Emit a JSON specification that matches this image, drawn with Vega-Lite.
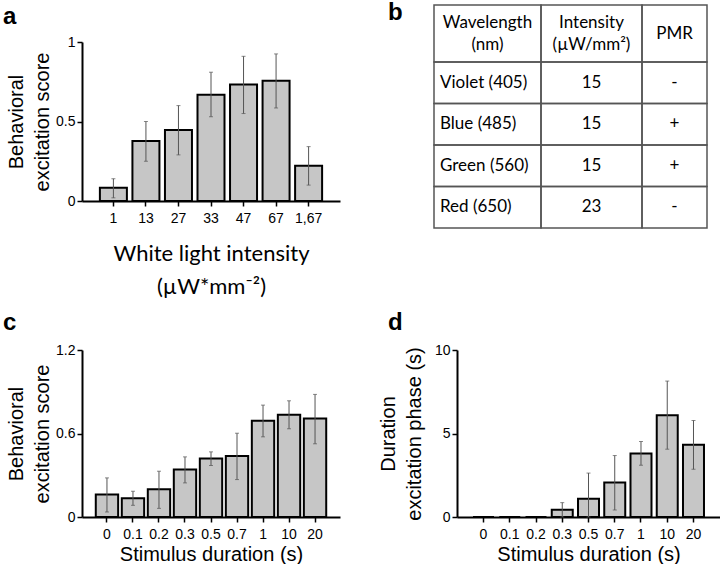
{
  "$schema": "https://vega.github.io/schema/vega-lite/v6.json",
  "background": "white",
  "padding": {"left": 3, "top": 1, "right": 0, "bottom": 0},
  "config": {
    "view": {"stroke": null},
    "axis": {"domainColor": "black", "domainWidth": 2, "tickColor": "black", "tickWidth": 1.5, "tickSize": 5, "labelColor": "black", "labelFont": "Liberation Sans", "labelFontSize": 14, "labelPadding": 2, "titleFont": "Liberation Sans", "titleFontSize": 20, "titleFontWeight": "normal", "titleColor": "black", "grid": false, "labelAngle": 0},
    "axisX": {"labelPadding": 5},
    "axisY": {"format": ".2~f"},
    "title": {"font": "Liberation Sans", "fontSize": 24, "fontWeight": "bold", "color": "black", "anchor": "start", "frame": "group"}
  },
  "datasets": {
    "a": [
      {"intensity": "1", "score": 0.084, "lo": 0.02, "hi": 0.14},
      {"intensity": "13", "score": 0.377, "lo": 0.25, "hi": 0.5},
      {"intensity": "27", "score": 0.447, "lo": 0.29, "hi": 0.6},
      {"intensity": "33", "score": 0.669, "lo": 0.53, "hi": 0.81},
      {"intensity": "47", "score": 0.732, "lo": 0.55, "hi": 0.91},
      {"intensity": "67", "score": 0.757, "lo": 0.585, "hi": 0.925},
      {"intensity": "1,67", "score": 0.222, "lo": 0.1, "hi": 0.342}
    ],
    "c": [
      {"duration": "0", "score": 0.161, "lo": 0.036, "hi": 0.281},
      {"duration": "0.1", "score": 0.134, "lo": 0.084, "hi": 0.185},
      {"duration": "0.2", "score": 0.199, "lo": 0.062, "hi": 0.329},
      {"duration": "0.3", "score": 0.341, "lo": 0.245, "hi": 0.432},
      {"duration": "0.5", "score": 0.42, "lo": 0.37, "hi": 0.468},
      {"duration": "0.7", "score": 0.439, "lo": 0.269, "hi": 0.602},
      {"duration": "1", "score": 0.691, "lo": 0.576, "hi": 0.804},
      {"duration": "10", "score": 0.734, "lo": 0.634, "hi": 0.835},
      {"duration": "20", "score": 0.708, "lo": 0.526, "hi": 0.881}
    ],
    "d": [
      {"duration": "0", "phase": 0, "lo": null, "hi": null},
      {"duration": "0.1", "phase": 0, "lo": null, "hi": null},
      {"duration": "0.2", "phase": 0, "lo": null, "hi": null},
      {"duration": "0.3", "phase": 0.44, "lo": 0.0, "hi": 0.86},
      {"duration": "0.5", "phase": 1.1, "lo": 0.0, "hi": 2.63},
      {"duration": "0.7", "phase": 2.06, "lo": 0.42, "hi": 3.68},
      {"duration": "1", "phase": 3.8, "lo": 3.1, "hi": 4.52},
      {"duration": "10", "phase": 6.1, "lo": 4.06, "hi": 8.14},
      {"duration": "20", "phase": 4.32, "lo": 2.86, "hi": 5.78}
    ],
    "table": [
      {"wavelength": "Violet (405)", "intensity": "15", "pmr": "-"},
      {"wavelength": "Blue (485)", "intensity": "15", "pmr": "+"},
      {"wavelength": "Green (560)", "intensity": "15", "pmr": "+"},
      {"wavelength": "Red (650)", "intensity": "23", "pmr": "-"}
    ]
  },
  "vconcat": [
    {
      "hconcat": [
        {
          "width": 258, "height": 159,
          "title": {"text": "a", "dx": -79, "offset": 6},
          "data": {"name": "a"},
          "encoding": {
            "x": {"field": "intensity", "type": "nominal", "sort": null, "scale": {"paddingInner": 0.17, "paddingOuter": 0.55},
                  "axis": {"title": ["White light intensity", "(µW*mm⁻²)"], "titleFont": "Lato", "titleFontSize": 22, "titleLineHeight": 33, "titlePadding": 18}}
          },
          "layer": [
            {"mark": {"type": "bar", "fill": "#c6c6c6", "stroke": "black", "strokeWidth": 2},
             "encoding": {"y": {"field": "score", "type": "quantitative", "scale": {"domain": [0, 1]}, "title": ["Behavioral", "excitation score"],
                 "axis": {"values": [0, 0.5, 1], "titleLineHeight": 26, "titlePadding": 3}}}},
            {"transform": [{"filter": "isValid(datum.hi)"}],
             "mark": {"type": "errorbar", "ticks": true, "size": 4, "thickness": 1, "color": "#555"},
             "encoding": {"y": {"field": "lo", "type": "quantitative", "title": ["Behavioral", "excitation score"]}, "y2": {"field": "hi"}}}
          ]
        },
        {
          "width": 273, "height": 186,
          "title": {"text": "b", "dx": -46, "offset": -21},
          "resolve": {"scale": {"y": "independent"}},
          "layer": [
            {"data": {"values": [{}]}, "mark": {"type": "rect", "fillOpacity": 0, "stroke": "#555", "strokeWidth": 1.5},
             "encoding": {
               "x": {"datum": 0, "type": "quantitative", "scale": {"domain": [0, 1, 2, 3], "range": [0, 107, 208, 273], "zero": false, "nice": false}, "axis": null},
               "x2": {"datum": 1},
               "y": {"datum": 0, "type": "quantitative", "scale": {"domain": [0, 1], "range": [-37, 20], "zero": false, "nice": false}, "axis": null},
               "y2": {"datum": 1}}},
            {"data": {"values": [{}]}, "mark": {"type": "rect", "fillOpacity": 0, "stroke": "#555", "strokeWidth": 1.5},
             "encoding": {
               "x": {"datum": 1, "type": "quantitative", "scale": {"domain": [0, 1, 2, 3], "range": [0, 107, 208, 273], "zero": false, "nice": false}, "axis": null},
               "x2": {"datum": 2},
               "y": {"datum": 0, "type": "quantitative", "scale": {"domain": [0, 1], "range": [-37, 20], "zero": false, "nice": false}, "axis": null},
               "y2": {"datum": 1}}},
            {"data": {"values": [{}]}, "mark": {"type": "rect", "fillOpacity": 0, "stroke": "#555", "strokeWidth": 1.5},
             "encoding": {
               "x": {"datum": 2, "type": "quantitative", "scale": {"domain": [0, 1, 2, 3], "range": [0, 107, 208, 273], "zero": false, "nice": false}, "axis": null},
               "x2": {"datum": 3},
               "y": {"datum": 0, "type": "quantitative", "scale": {"domain": [0, 1], "range": [-37, 20], "zero": false, "nice": false}, "axis": null},
               "y2": {"datum": 1}}},
            {"data": {"name": "table"}, "mark": {"type": "rect", "fillOpacity": 0, "stroke": "#555", "strokeWidth": 1.5},
             "encoding": {
               "x": {"datum": 0, "type": "quantitative", "scale": {"domain": [0, 1, 2, 3], "range": [0, 107, 208, 273], "zero": false, "nice": false}, "axis": null},
               "x2": {"datum": 1},
               "y": {"field": "wavelength", "type": "nominal", "sort": null, "scale": {"range": [20, 186], "paddingInner": 0, "paddingOuter": 0}, "axis": null}}},
            {"data": {"name": "table"}, "mark": {"type": "rect", "fillOpacity": 0, "stroke": "#555", "strokeWidth": 1.5},
             "encoding": {
               "x": {"datum": 1, "type": "quantitative", "scale": {"domain": [0, 1, 2, 3], "range": [0, 107, 208, 273], "zero": false, "nice": false}, "axis": null},
               "x2": {"datum": 2},
               "y": {"field": "wavelength", "type": "nominal", "sort": null, "scale": {"range": [20, 186], "paddingInner": 0, "paddingOuter": 0}, "axis": null}}},
            {"data": {"name": "table"}, "mark": {"type": "rect", "fillOpacity": 0, "stroke": "#555", "strokeWidth": 1.5},
             "encoding": {
               "x": {"datum": 2, "type": "quantitative", "scale": {"domain": [0, 1, 2, 3], "range": [0, 107, 208, 273], "zero": false, "nice": false}, "axis": null},
               "x2": {"datum": 3},
               "y": {"field": "wavelength", "type": "nominal", "sort": null, "scale": {"range": [20, 186], "paddingInner": 0, "paddingOuter": 0}, "axis": null}}},
            {"data": {"values": [{}]}, "mark": {"type": "text", "font": "Lato", "fontSize": 17, "lineHeight": 22, "align": "center", "baseline": "middle", "dy": -11, "color": "black"},
             "encoding": {
               "x": {"datum": 0.5, "type": "quantitative", "scale": {"domain": [0, 1, 2, 3], "range": [0, 107, 208, 273], "zero": false, "nice": false}, "axis": null},
               "y": {"datum": 0.5, "type": "quantitative", "scale": {"domain": [0, 1], "range": [-37, 20], "zero": false, "nice": false}, "axis": null},
               "text": {"value": ["Wavelength", "(nm)"]}}},
            {"data": {"values": [{}]}, "mark": {"type": "text", "font": "Lato", "fontSize": 17, "lineHeight": 22, "align": "center", "baseline": "middle", "dy": -11, "color": "black"},
             "encoding": {
               "x": {"datum": 1.5, "type": "quantitative", "scale": {"domain": [0, 1, 2, 3], "range": [0, 107, 208, 273], "zero": false, "nice": false}, "axis": null},
               "y": {"datum": 0.5, "type": "quantitative", "scale": {"domain": [0, 1], "range": [-37, 20], "zero": false, "nice": false}, "axis": null},
               "text": {"value": ["Intensity", "(µW/mm²)"]}}},
            {"data": {"values": [{}]}, "mark": {"type": "text", "font": "Lato", "fontSize": 17, "align": "center", "baseline": "middle", "color": "black"},
             "encoding": {
               "x": {"datum": 2.5, "type": "quantitative", "scale": {"domain": [0, 1, 2, 3], "range": [0, 107, 208, 273], "zero": false, "nice": false}, "axis": null},
               "y": {"datum": 0.5, "type": "quantitative", "scale": {"domain": [0, 1], "range": [-37, 20], "zero": false, "nice": false}, "axis": null},
               "text": {"value": "PMR"}}},
            {"data": {"name": "table"}, "mark": {"type": "text", "font": "Lato", "fontSize": 17, "align": "left", "dx": 6, "baseline": "middle", "color": "black"},
             "encoding": {
               "x": {"datum": 0, "type": "quantitative", "scale": {"domain": [0, 1, 2, 3], "range": [0, 107, 208, 273], "zero": false, "nice": false}, "axis": null},
               "y": {"field": "wavelength", "type": "nominal", "sort": null, "scale": {"range": [20, 186], "paddingInner": 0, "paddingOuter": 0}, "axis": null},
               "text": {"field": "wavelength"}}},
            {"data": {"name": "table"}, "mark": {"type": "text", "font": "Lato", "fontSize": 17, "align": "center", "baseline": "middle", "color": "black"},
             "encoding": {
               "x": {"datum": 1.5, "type": "quantitative", "scale": {"domain": [0, 1, 2, 3], "range": [0, 107, 208, 273], "zero": false, "nice": false}, "axis": null},
               "y": {"field": "wavelength", "type": "nominal", "sort": null, "scale": {"range": [20, 186], "paddingInner": 0, "paddingOuter": 0}, "axis": null},
               "text": {"field": "intensity"}}},
            {"data": {"name": "table"}, "mark": {"type": "text", "font": "Lato", "fontSize": 17, "align": "center", "baseline": "middle", "color": "black"},
             "encoding": {
               "x": {"datum": 2.5, "type": "quantitative", "scale": {"domain": [0, 1, 2, 3], "range": [0, 107, 208, 273], "zero": false, "nice": false}, "axis": null},
               "y": {"field": "wavelength", "type": "nominal", "sort": null, "scale": {"range": [20, 186], "paddingInner": 0, "paddingOuter": 0}, "axis": null},
               "text": {"field": "pmr"}}}
          ]
        }
      ],
      "spacing": 94, "bounds": "flush"
    },
    {
      "hconcat": [
        {
          "width": 258, "height": 167,
          "title": {"text": "c", "dx": -79, "offset": 8},
          "data": {"name": "c"},
          "encoding": {
            "x": {"field": "duration", "type": "nominal", "sort": null, "scale": {"paddingInner": 0.14, "paddingOuter": 0.53},
                  "axis": {"title": "Stimulus duration (s)", "titlePadding": 3}}
          },
          "layer": [
            {"mark": {"type": "bar", "fill": "#c6c6c6", "stroke": "black", "strokeWidth": 2},
             "encoding": {"y": {"field": "score", "type": "quantitative", "scale": {"domain": [0, 1.2]}, "title": ["Behavioral", "excitation score"],
                 "axis": {"values": [0, 0.6, 1.2], "titleLineHeight": 26, "titlePadding": 3}}}},
            {"transform": [{"filter": "isValid(datum.hi)"}],
             "mark": {"type": "errorbar", "ticks": true, "size": 4, "thickness": 1, "color": "#555"},
             "encoding": {"y": {"field": "lo", "type": "quantitative", "title": ["Behavioral", "excitation score"]}, "y2": {"field": "hi"}}}
          ]
        },
        {
          "width": 263, "height": 167,
          "title": {"text": "d", "dx": -69, "offset": 8},
          "data": {"name": "d"},
          "encoding": {
            "x": {"field": "duration", "type": "nominal", "sort": null, "scale": {"paddingInner": 0.2, "paddingOuter": 0.61},
                  "axis": {"title": "Stimulus duration (s)", "titlePadding": 3}}
          },
          "layer": [
            {"mark": {"type": "bar", "fill": "#c6c6c6", "stroke": "black", "strokeWidth": 2},
             "encoding": {"y": {"field": "phase", "type": "quantitative", "scale": {"domain": [0, 10]}, "title": ["Duration", "excitation phase (s)"],
                 "axis": {"values": [0, 5, 10], "titleLineHeight": 26, "titlePadding": 10}}}},
            {"transform": [{"filter": "isValid(datum.hi)"}],
             "mark": {"type": "errorbar", "ticks": true, "size": 4, "thickness": 1, "color": "#555"},
             "encoding": {"y": {"field": "lo", "type": "quantitative", "title": ["Duration", "excitation phase (s)"]}, "y2": {"field": "hi"}}}
          ]
        }
      ],
      "spacing": 117, "bounds": "flush"
    }
  ],
  "spacing": 14
}
